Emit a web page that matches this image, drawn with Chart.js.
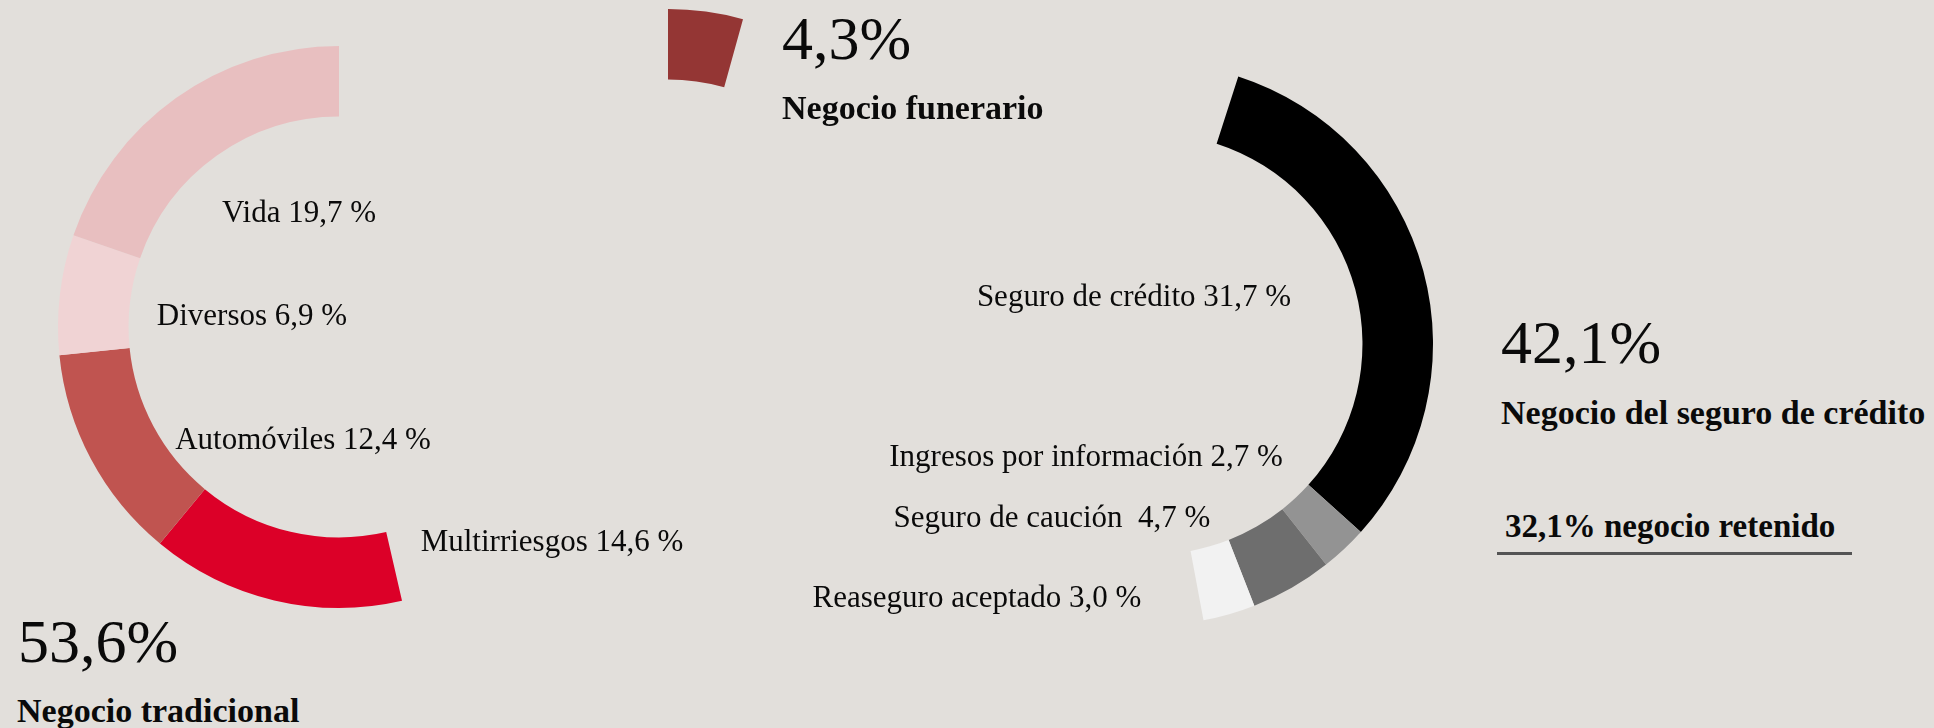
<!DOCTYPE html>
<html>
<head>
<meta charset="utf-8">
<script src="https://cdn.jsdelivr.net/npm/chart.js@4/dist/chart.umd.min.js"></script>
<style>
  html, body { margin:0; padding:0; width:1934px; height:728px; overflow:hidden; background:#e2dfdb; }
  #stage { position:relative; width:1934px; height:728px; }
  canvas { position:absolute; }
  .t { position:absolute; white-space:pre; line-height:1; font-family:"Liberation Serif", "DejaVu Serif", serif; color:#0a0a0a; }
  .c { transform:translateX(-50%); }
  .rule { position:absolute; height:3px; background:#545454; }
</style>
</head>
<body>
<div id="stage"></div>
<script>
// ---- data (clockwise from 12 o'clock) ----
const categories = ['Negocio funerario','Seguro de crédito','Ingresos por información','Seguro de caución','Reaseguro aceptado','Multirriesgos','Automóviles','Diversos','Vida'];
const values     = [4.3, 31.7, 2.7, 4.7, 3.0, 14.6, 12.4, 6.9, 19.7];
const segGroup   = [1, 2, 2, 2, 2, 0, 0, 0, 0];
const segColors  = ['#943634','#000000','#939393','#6e6e6e','#f2f2f2','#dc0028','#c05450','#f0d3d4','#e8bfc0'];
const groupNames  = ['Negocio tradicional','Negocio funerario','Negocio del seguro de crédito'];
const groupTotals = [53.6, 4.3, 42.1];
const retainedValue = 32.1;
const retainedLabel = 'negocio retenido';

// ---- layout (positions / styles) ----
const SIZE = 600, R = 281, CUT = '74.9%';
const groupCenters  = [[339, 327], [668, 290], [1152, 344]];
const groupRotation = [0, 0, 2.4];

const fmt = v => v.toFixed(1).replace('.', ',');
const stage = document.getElementById('stage');

groupCenters.forEach((c, g) => {
  const cv = document.createElement('canvas');
  cv.width = SIZE; cv.height = SIZE;
  cv.style.left = (c[0] - SIZE/2) + 'px';
  cv.style.top  = (c[1] - SIZE/2) + 'px';
  stage.appendChild(cv);
  new Chart(cv, {
    type: 'doughnut',
    data: {
      labels: categories,
      datasets: [{
        data: values,
        backgroundColor: segColors.map((col, i) => segGroup[i] === g ? col : 'rgba(0,0,0,0)'),
        borderWidth: 0,
        hoverOffset: 0
      }]
    },
    options: {
      responsive: false,
      animation: false,
      events: [],
      radius: R,
      cutout: CUT,
      rotation: groupRotation[g],
      layout: { padding: 0 },
      plugins: { legend: { display: false }, tooltip: { enabled: false } }
    }
  });
});

// ---- text ----
function place(text, x, baseline, size, weight, centered) {
  const d = document.createElement('div');
  d.className = 't' + (centered ? ' c' : '');
  d.textContent = text;
  d.style.fontSize = size + 'px';
  d.style.fontWeight = weight || 'normal';
  d.style.left = x + 'px';
  d.style.top = (baseline - size * 0.8375) + 'px';
  stage.appendChild(d);
  return d;
}

// segment labels: index into categories -> [center x, baseline]
const labelPos = {
  8: [299, 222], 7: [252, 325], 6: [303, 449], 5: [552, 551],
  1: [1134, 306], 2: [1086, 466], 3: [1052, 527], 4: [977, 607]
};
const LABEL_FS = 31;
Object.keys(labelPos).forEach(k => {
  const i = +k;
  const sep = categories[i] === 'Seguro de caución' ? '  ' : ' ';
  place(categories[i] + sep + fmt(values[i]) + ' %', labelPos[k][0], labelPos[k][1], LABEL_FS, 'normal', true);
});

// group totals and names
const totalPos = [[18, 662], [782, 59], [1501, 363]];
const namePos  = [[17, 722], [782, 119], [1501, 424]];
groupTotals.forEach((v, g) => {
  place(fmt(v) + '%', totalPos[g][0], totalPos[g][1], 62);
  place(groupNames[g], namePos[g][0], namePos[g][1], 34, 'bold');
});

place(fmt(retainedValue) + '% ' + retainedLabel, 1505, 538, 33, 'bold');
const rule = document.createElement('div');
rule.className = 'rule';
rule.style.left = '1497px'; rule.style.top = '552px'; rule.style.width = '355px';
stage.appendChild(rule);
</script>
</body>
</html>
